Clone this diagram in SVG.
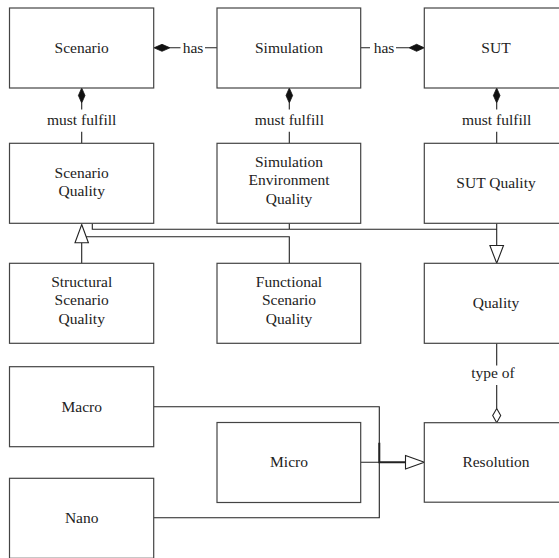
<svg xmlns="http://www.w3.org/2000/svg" width="559" height="558" viewBox="0 0 559 558">
  <style>
    .box { fill: #fff; stroke: #444; stroke-width: 1.2; }
    .lbl { font-family: 'Liberation Serif', 'Times New Roman', 'DejaVu Serif', serif; font-size: 15.5px; fill: #222; text-anchor: middle; }
    .ln { fill: none; stroke: #222; stroke-width: 1.1; }
    .ln2 { fill: none; stroke: #222; stroke-width: 2; }
    .solid { fill: #111; stroke: #111; stroke-width: 0.8; }
    .hollow { fill: #fff; stroke: #222; stroke-width: 1.1; }
  </style>
  <rect width="559" height="558" fill="#fff"/>

  <!-- connectors -->
  <g id="connectors">
    <!-- Scenario has Simulation -->
    <path class="ln" d="M170,47.8 H180.5 M205,47.8 H217"/>
    <polygon class="solid" points="154,47.8 162,44.3 170,47.8 162,51.3"/>
    <text class="lbl" x="193" y="52.7" font-family="Liberation Serif, serif">has</text>
    <!-- SUT has Simulation -->
    <path class="ln" d="M360.7,47.8 H370 M396,47.8 H409"/>
    <polygon class="solid" points="409,47.8 416.6,44.3 424.3,47.8 416.6,51.3"/>
    <text class="lbl" x="384" y="52.7">has</text>

    <!-- must fulfill -->
    <path class="ln" d="M81.7,103 V109.5 M81.7,131.7 V143.3"/>
    <polygon class="solid" points="81.7,88 85,95.5 81.7,103 78.4,95.5"/>
    <text class="lbl" x="81.7" y="125">must fulfill</text>

    <path class="ln" d="M289.3,103 V109.5 M289.3,131.7 V143.3"/>
    <polygon class="solid" points="289.3,88 292.6,95.5 289.3,103 286,95.5"/>
    <text class="lbl" x="289.3" y="125">must fulfill</text>

    <path class="ln" d="M496.7,103 V109.5 M496.7,131.7 V143.3"/>
    <polygon class="solid" points="496.7,88 500,95.5 496.7,103 493.4,95.5"/>
    <text class="lbl" x="496.7" y="125">must fulfill</text>

    <!-- qualities generalise Quality -->
    <path class="ln" d="M92.3,223.3 V229.3 H496.7 M289.3,223.3 V229.3 M496.7,223.3 V245.5"/>
    <polygon class="hollow" points="489.9,245.5 503.5,245.5 496.7,263.3"/>

    <!-- scenario qualities generalise Scenario Quality -->
    <path class="ln" d="M81.7,242.8 V263.3 M85.9,236.8 H289.3 V263.3"/>
    <polygon class="hollow" points="81.7,224.5 88.4,242.8 75,242.8"/>

    <!-- Quality type of Resolution -->
    <path class="ln" d="M496.7,343.3 V365.5 M496.7,385 V408.5"/>
    <polygon class="hollow" points="496.7,408.5 500.7,415.6 496.7,422.7 492.7,415.6"/>
    <text class="lbl" x="493" y="377.7">type of</text>

    <!-- Macro, Micro, Nano generalise Resolution -->
    <path class="ln" d="M153.7,406.7 H379.3 V517.8 H153.7 M360.7,462.3 H379.3"/>
    <path class="ln2" d="M379.3,442.7 V462.3 H405.5"/>
    <polygon class="hollow" points="405.5,455.6 424.3,462.3 405.5,469"/>
  </g>

  <!-- nodes -->
  <g id="scenario">
    <rect class="box" x="9.5" y="8" width="144.2" height="80"/>
    <text class="lbl" x="81.7" y="52.7">Scenario</text>
  </g>
  <g id="simulation">
    <rect class="box" x="217" y="8" width="143.7" height="80"/>
    <text class="lbl" x="289" y="52.7">Simulation</text>
  </g>
  <g id="sut">
    <rect class="box" x="424.3" y="8" width="144" height="80"/>
    <text class="lbl" x="496" y="52.7">SUT</text>
  </g>

  <g id="scenario-quality">
    <rect class="box" x="9.5" y="143.3" width="144.2" height="80"/>
    <text class="lbl" x="81.7" y="177.8">Scenario</text>
    <text class="lbl" x="81.7" y="196.2">Quality</text>
  </g>
  <g id="simulation-environment-quality">
    <rect class="box" x="217" y="143.3" width="143.7" height="80"/>
    <text class="lbl" x="289" y="166.5">Simulation</text>
    <text class="lbl" x="289" y="185">Environment</text>
    <text class="lbl" x="289" y="203.5">Quality</text>
  </g>
  <g id="sut-quality">
    <rect class="box" x="424.3" y="143.3" width="144" height="80"/>
    <text class="lbl" x="496" y="188.3">SUT Quality</text>
  </g>

  <g id="structural-scenario-quality">
    <rect class="box" x="9.5" y="263.3" width="144.2" height="80"/>
    <text class="lbl" x="81.7" y="286.5">Structural</text>
    <text class="lbl" x="81.7" y="305">Scenario</text>
    <text class="lbl" x="81.7" y="323.5">Quality</text>
  </g>
  <g id="functional-scenario-quality">
    <rect class="box" x="217" y="263.3" width="143.7" height="80"/>
    <text class="lbl" x="289" y="286.5">Functional</text>
    <text class="lbl" x="289" y="305">Scenario</text>
    <text class="lbl" x="289" y="323.5">Quality</text>
  </g>
  <g id="quality">
    <rect class="box" x="424.3" y="263.3" width="144" height="80"/>
    <text class="lbl" x="496" y="308">Quality</text>
  </g>

  <g id="macro">
    <rect class="box" x="9.5" y="366.7" width="144.2" height="80"/>
    <text class="lbl" x="81.7" y="411.5">Macro</text>
  </g>
  <g id="micro">
    <rect class="box" x="217" y="422.5" width="143.7" height="80"/>
    <text class="lbl" x="289" y="467.2">Micro</text>
  </g>
  <g id="resolution">
    <rect class="box" x="424.3" y="422.7" width="144" height="79.5"/>
    <text class="lbl" x="496" y="467.2">Resolution</text>
  </g>
  <g id="nano">
    <rect class="box" x="9.5" y="478.3" width="144.2" height="80"/>
    <text class="lbl" x="81.7" y="523">Nano</text>
  </g>
</svg>
